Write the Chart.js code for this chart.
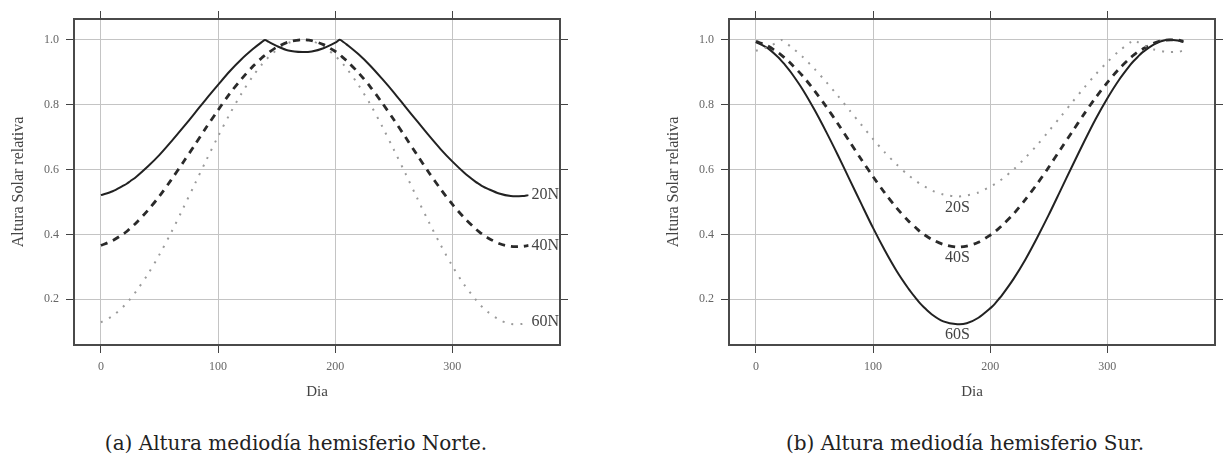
<!DOCTYPE html>
<html>
<head>
<meta charset="utf-8">
<script src="https://cdn.jsdelivr.net/npm/chart.js@4.4.1/dist/chart.umd.min.js"></script>
<style>
  body { margin: 0; background: #fff; width: 1223px; height: 464px; position: relative; overflow: hidden; }
  canvas { position: absolute; top: 0; }
  #chartNorte { left: 0; }
  #chartSur { left: 655px; }
  .caption { position: absolute; top: 431px; width: 500px; line-height: 24px; text-align: center;
             font-family: 'DejaVu Serif', serif; font-size: 20px; color: #222; }
</style>
</head>
<body>
<canvas id="chartNorte" width="568" height="410"></canvas>
<canvas id="chartSur" width="568" height="410"></canvas>
<div class="caption" style="left: 46px">(a) Altura mediodía hemisferio Norte.</div>
<div class="caption" style="left: 715px">(b) Altura mediodía hemisferio Sur.</div>
<script>
// día del año (eje x)
const days = [0, 10, 19, 22, 25, 30, 40, 50, 60, 70, 80, 90, 100, 110, 120, 130, 137, 140, 143, 150, 160, 172, 180, 190,
              201, 204, 207, 210, 220, 230, 240, 250, 260, 270, 280, 290, 300, 310, 320, 323, 326, 330, 340, 350, 360, 365];

// hemisferio Norte
const norte20 = [0.521, 0.533, 0.550, 0.556, 0.564, 0.577, 0.609, 0.645, 0.686, 0.729, 0.773, 0.818, 0.861, 0.903, 0.940, 0.972, 0.992, 0.999, 0.994, 0.981, 0.967, 0.962, 0.964, 0.974,
                 0.993, 1.000, 0.993, 0.985, 0.955, 0.920, 0.880, 0.838, 0.793, 0.749, 0.705, 0.663, 0.625, 0.591, 0.562, 0.555, 0.548, 0.541, 0.526, 0.518, 0.518, 0.521];
const norte40 = [0.366, 0.381, 0.401, 0.409, 0.419, 0.435, 0.474, 0.518, 0.568, 0.621, 0.675, 0.730, 0.783, 0.834, 0.879, 0.919, 0.943, 0.952, 0.960, 0.977, 0.993, 1.000, 0.997, 0.985,
                 0.962, 0.954, 0.944, 0.935, 0.898, 0.855, 0.806, 0.754, 0.700, 0.645, 0.591, 0.540, 0.493, 0.452, 0.417, 0.408, 0.400, 0.390, 0.372, 0.363, 0.363, 0.366];
const norte60 = [0.129, 0.149, 0.177, 0.188, 0.201, 0.224, 0.277, 0.338, 0.406, 0.479, 0.554, 0.629, 0.702, 0.771, 0.834, 0.889, 0.922, 0.934, 0.946, 0.968, 0.990, 1.000, 0.996, 0.980,
                 0.947, 0.936, 0.924, 0.911, 0.860, 0.801, 0.734, 0.662, 0.588, 0.512, 0.438, 0.368, 0.303, 0.246, 0.199, 0.186, 0.175, 0.162, 0.137, 0.124, 0.124, 0.129];

// hemisferio Sur
const sur20 = [0.966, 0.977, 0.994, 0.999, 0.992, 0.978, 0.947, 0.910, 0.870, 0.827, 0.782, 0.738, 0.694, 0.653, 0.616, 0.583, 0.564, 0.556, 0.550, 0.536, 0.523, 0.517, 0.520, 0.529,
               0.549, 0.555, 0.563, 0.570, 0.600, 0.636, 0.675, 0.718, 0.762, 0.807, 0.851, 0.893, 0.931, 0.965, 0.993, 1.000, 0.993, 0.985, 0.970, 0.963, 0.963, 0.966];
const sur40 = [0.995, 0.981, 0.960, 0.952, 0.943, 0.926, 0.888, 0.843, 0.794, 0.741, 0.686, 0.631, 0.578, 0.528, 0.482, 0.442, 0.419, 0.409, 0.401, 0.385, 0.369, 0.361, 0.364, 0.376,
               0.400, 0.408, 0.417, 0.427, 0.463, 0.507, 0.555, 0.607, 0.662, 0.716, 0.770, 0.821, 0.868, 0.910, 0.945, 0.954, 0.962, 0.971, 0.990, 0.999, 0.999, 0.995];
const sur60 = [0.993, 0.974, 0.946, 0.934, 0.922, 0.899, 0.846, 0.784, 0.716, 0.644, 0.569, 0.494, 0.420, 0.351, 0.288, 0.234, 0.201, 0.188, 0.177, 0.154, 0.132, 0.123, 0.126, 0.143,
               0.175, 0.186, 0.199, 0.212, 0.263, 0.322, 0.389, 0.460, 0.535, 0.610, 0.684, 0.755, 0.819, 0.876, 0.924, 0.936, 0.947, 0.961, 0.986, 0.999, 0.998, 0.993];

const nombresNorte = ['20N', '40N', '60N'];
const nombresSur = ['20S', '40S', '60S'];

const xTicks = [0, 100, 200, 300];
const yTicks = [0.2, 0.4, 0.6, 0.8, 1.0];

const serif = '"Liberation Serif", "DejaVu Serif", serif';

const styles = {
    solid:  { borderColor: '#222', borderWidth: 2, borderDash: [] },
    dashed: { borderColor: '#2a2a2a', borderWidth: 2.8, borderDash: [7, 6] },
    dotted: { borderColor: '#9a9a9a', borderWidth: 2, borderDash: [2, 7] }
};

function serie(vals, style) {
    return {
        data: days.map((d, i) => ({ x: d, y: vals[i] })),
        ...styles[style],
        pointRadius: 0,
        tension: 0.3,
        fill: false
    };
}

// etiquetas de cada curva
const seriesLabels = {
    id: 'seriesLabels',
    afterDatasetsDraw(chart, args, opts) {
        const { ctx, chartArea, scales: { x, y } } = chart;
        ctx.save();
        ctx.font = '16px ' + serif;
        ctx.fillStyle = '#444';
        ctx.textBaseline = 'middle';
        opts.names.forEach((name, i) => {
            const pts = chart.data.datasets[i].data;
            if (opts.at === 'end') {
                const p = pts[pts.length - 1];
                ctx.textAlign = 'right';
                ctx.fillText(name, chartArea.right - 1, y.getPixelForValue(p.y));
            } else {
                let p = pts[0];
                pts.forEach(q => { if (q.y < p.y) p = q; });
                ctx.textAlign = 'center';
                ctx.fillText(name, x.getPixelForValue(p.x), y.getPixelForValue(p.y) + 11);
            }
        });
        ctx.restore();
    }
};

function opciones(names, at) {
    const border = { display: true, color: '#4a4a4a', width: 2 };
    const grid = { color: '#c4c4c4', lineWidth: 1, tickColor: '#444', tickLength: 8, drawTicks: true };
    const setX = s => { s.ticks = xTicks.map(v => ({ value: v })); };
    const setY = s => { s.ticks = yTicks.map(v => ({ value: v })); };
    return {
        responsive: false,
        animation: false,
        layout: { padding: 0 },
        plugins: {
            legend: { display: false },
            tooltip: { enabled: false },
            seriesLabels: { names: names, at: at }
        },
        scales: {
            x: {
                type: 'linear', position: 'bottom', min: -23, max: 392,
                afterBuildTicks: setX,
                afterFit: s => { s.height = 65; },
                grid: grid, border: border,
                ticks: { padding: 7, color: '#666', font: { family: serif, size: 12 } },
                title: { display: true, text: 'Dia', color: '#444', font: { family: serif, size: 15 }, padding: { top: 0, bottom: 9 } }
            },
            x2: {
                type: 'linear', position: 'top', min: -23, max: 392,
                afterBuildTicks: setX,
                afterFit: s => { s.height = 19; },
                grid: { ...grid, drawOnChartArea: false }, border: border,
                ticks: { display: false }
            },
            y: {
                type: 'linear', position: 'left', min: 0.059, max: 1.064,
                afterBuildTicks: setY,
                afterFit: s => { s.width = 74; },
                grid: grid, border: border,
                ticks: { padding: 7, color: '#666', font: { family: serif, size: 12 }, callback: v => v.toFixed(1) },
                title: { display: true, text: 'Altura Solar relativa', color: '#444', font: { family: serif, size: 16 }, padding: { top: 9, bottom: 0 } }
            },
            y2: {
                type: 'linear', position: 'right', min: 0.059, max: 1.064,
                afterBuildTicks: setY,
                afterFit: s => { s.width = 8; },
                grid: { ...grid, drawOnChartArea: false }, border: border,
                ticks: { display: false }
            }
        }
    };
}

document.addEventListener('DOMContentLoaded', () => {
    new Chart(document.getElementById('chartNorte').getContext('2d'), {
        type: 'line',
        data: { datasets: [serie(norte20, 'solid'), serie(norte40, 'dashed'), serie(norte60, 'dotted')] },
        options: opciones(nombresNorte, 'end'),
        plugins: [seriesLabels]
    });

    new Chart(document.getElementById('chartSur').getContext('2d'), {
        type: 'line',
        data: { datasets: [serie(sur20, 'dotted'), serie(sur40, 'dashed'), serie(sur60, 'solid')] },
        options: opciones(nombresSur, 'min'),
        plugins: [seriesLabels]
    });
});
</script>
</body>
</html>
